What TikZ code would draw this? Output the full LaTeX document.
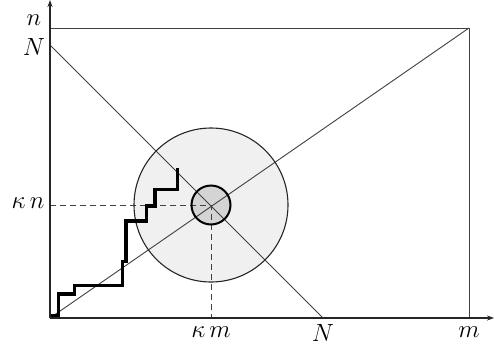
\documentclass[tikz,border=0pt]{standalone}
\usetikzlibrary{arrows.meta}
\begin{document}
\begin{tikzpicture}[x=1pt,y=-1pt,
  axis/.style={line width=1.3pt,draw=black!85,-{Stealth[length=7pt,width=5pt]}},
  thin line/.style={line width=0.9pt,draw=black!75},
  dash line/.style={line width=0.9pt,draw=black!75,dash pattern=on 6pt off 4pt},
  stair/.style={line width=3.4pt,draw=black,line join=miter},
  lbl/.style={font=\fontsize{26}{28}\selectfont,inner sep=0pt}]
\useasboundingbox (0,0) rectangle (494,351);
% key points
\coordinate (O) at (50,318);
\coordinate (TR) at (469,28);
\coordinate (Ny) at (50,45);
\coordinate (Nx) at (323,318);
\coordinate (C) at (211,205);
\coordinate (Cy) at (50,205);
\coordinate (Cx) at (211,318);
\coordinate (Xend) at (494,318);
\coordinate (Yend) at (50,0);
% circle fills
\fill[black!6] (C) circle (77);
\fill[black!17] (C) circle (19.5);
% rectangle and diagonals
\draw[thin line] (O) rectangle (TR);
\draw[thin line] (O) -- (TR);
\draw[thin line] (Ny) -- (Nx);
% dashed
\draw[dash line] (Cy) -- (C) -- (Cx);
% circle strokes
\draw[line width=1.1pt,black!85] (C) circle (77);
\draw[line width=2pt,black] (C) circle (19.5);
% staircase
\draw[stair] (50.7,315.7) -- (58.3,315.7) -- (58.3,294) -- (74.3,294) -- (74.3,285.7)
  -- (122.7,285.7) -- (122.7,261.7) -- (126,261.7) -- (126,221) -- (146.7,221)
  -- (146.7,206) -- (155,206) -- (155,189.3) -- (177.3,189.3) -- (177.3,168.3);
% axes
\draw[axis] (O) -- (Xend);
\draw[axis] (O) -- (Yend);
% labels
\node[lbl] (ln) at (34,20) {$n$};
\node[lbl] (lNy) at (34,47) {$N$};
\node[lbl] (lkn) at (28,203) {$\kappa\, n$};
\node[lbl] (lkm) at (211,332) {$\kappa\, m$};
\node[lbl] (lNx) at (323,333) {$N$};
\node[lbl] (lm) at (469,332) {$m$};
\end{tikzpicture}
\end{document}
